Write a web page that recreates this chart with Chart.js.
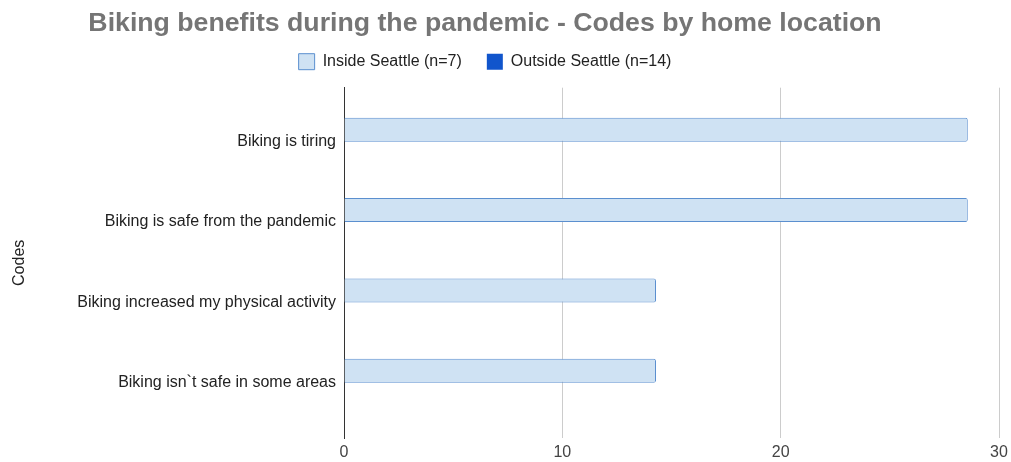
<!DOCTYPE html>
<html>
<head>
<meta charset="utf-8">
<script src="https://cdn.jsdelivr.net/npm/chart.js@4/dist/chart.umd.min.js"></script>
<style>
  body { margin: 0; background: #fff; }
  #wrap { width: 1011px; height: 462px; }
</style>
</head>
<body>
<div id="wrap"><canvas id="chart"></canvas></div>
<script>
var labels = ['Biking is tiring', 'Biking is safe from the pandemic', 'Biking increased my physical activity', 'Biking isn`t safe in some areas'];
var inside = [28.57, 28.57, 14.29, 14.29];
var outside = [0, 0, 0, 0];
var seriesNames = ['Inside Seattle (n=7)', 'Outside Seattle (n=14)'];
var xTicks = [0, 10, 20, 30];

var font = 'Arial, "Liberation Sans", sans-serif';

// title + legend sit a bit left of centre in the original, legend lifted a bit
var shiftBoxes = {
  id: 'shiftBoxes',
  afterLayout: function (chart) {
    var t = chart.titleBlock, l = chart.legend;
    if (t) { t.left = 0; t.right = 970; }
    if (l) { l.left = 0; l.right = 970; l.top -= 8; l.bottom -= 8; }
  }
};

new Chart(document.getElementById('chart'), {
  type: 'bar',
  data: {
    datasets: [{
      label: seriesNames[0],
      data: inside.map(function (v, i) { return { x: v, y: i }; }),
      backgroundColor: '#cfe2f3',
      borderColor: '#5b8fcf',
      borderWidth: 1,
      borderRadius: 2,
      borderSkipped: 'start'
    }, {
      label: seriesNames[1],
      data: outside.map(function (v, i) { return { x: v, y: i }; }),
      backgroundColor: '#1155cc',
      borderColor: '#1155cc',
      borderWidth: 0
    }]
  },
  options: {
    indexAxis: 'y',
    responsive: true,
    maintainAspectRatio: false,
    animation: false,
    categoryPercentage: 0.598,
    barPercentage: 1,
    layout: { padding: { left: 0, right: 12, top: 0, bottom: 0 } },
    plugins: {
      title: {
        display: true,
        text: 'Biking benefits during the pandemic - Codes by home location',
        color: '#757575',
        font: { family: font, size: 26.7, weight: 'bold', lineHeight: 1 },
        padding: { top: 10, bottom: 0 }
      },
      legend: {
        display: true,
        labels: {
          color: '#222',
          font: { family: font, size: 16 },
          boxWidth: 16,
          boxHeight: 16,
          padding: 25
        }
      },
      tooltip: { enabled: false }
    },
    scales: {
      x: {
        type: 'linear',
        min: 0,
        max: 30,
        afterBuildTicks: function (s) { s.ticks = xTicks.map(function (v) { return { value: v }; }); },
        afterFit: function (s) { s.height = 24; s.paddingLeft = 0; s.paddingRight = 0; },
        grid: { color: '#cccccc', drawTicks: false },
        border: { display: false },
        ticks: { color: '#444', font: { family: font, size: 16 }, padding: 5 }
      },
      y: {
        type: 'linear',
        reverse: true,
        offset: false,
        min: -0.672,
        max: 3.687,
        afterBuildTicks: function (s) { s.ticks = labels.map(function (l, i) { return { value: i }; }); },
        afterFit: function (s) { s.width = 344; },
        grid: { display: false, drawTicks: false },
        border: { display: true, color: '#333', width: 1 },
        ticks: {
          color: '#222',
          font: { family: font, size: 16 },
          padding: 8,
          autoSkip: false,
          callback: function (v) { return labels[v]; }
        },
        title: {
          display: true,
          text: 'Codes',
          color: '#222',
          font: { family: font, size: 16 },
          padding: { top: 10, bottom: 4 }
        }
      }
    }
  },
  plugins: [shiftBoxes]
});
</script>
</body>
</html>
